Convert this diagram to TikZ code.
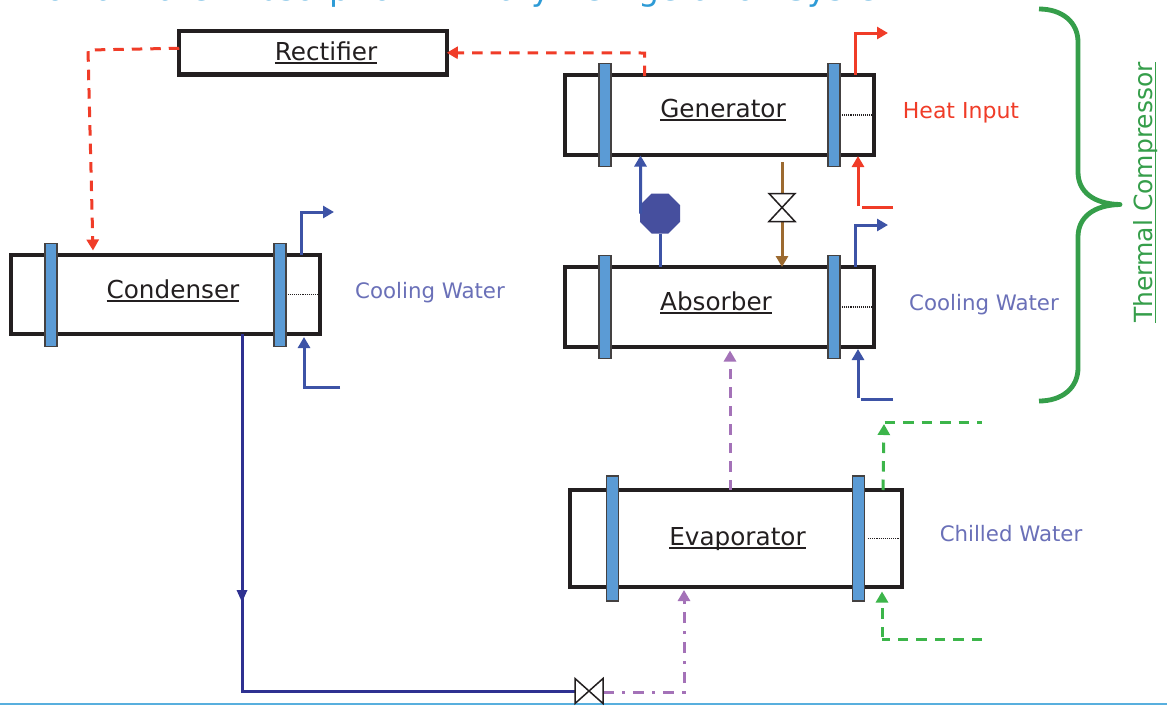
\documentclass[tikz,border=0pt]{standalone}
\usepackage{fontspec}
\setmainfont{DejaVu Sans}
\usetikzlibrary{arrows.meta,shapes.geometric}
\definecolor{boxk}{HTML}{231F20}
\definecolor{sheetb}{HTML}{5B9BD5}
\definecolor{hotred}{HTML}{F03C28}
\definecolor{coolb}{HTML}{3D53A6}
\definecolor{pumpb}{HTML}{464F9E}
\definecolor{deepb}{HTML}{2E3191}
\definecolor{brownl}{HTML}{9C6A30}
\definecolor{purpl}{HTML}{A472B8}
\definecolor{greenl}{HTML}{3CB54A}
\definecolor{bracegr}{HTML}{359E4A}
\definecolor{labelb}{HTML}{6A70B8}
\definecolor{titleb}{HTML}{2E9BD6}
\newcommand\ultext[2][2pt]{\setbox0=\hbox{#2}\rlap{\copy0}\raisebox{-3.8pt}{\rule{\wd0}{#1}}}
\tikzset{
  vessel/.style={draw=boxk,line width=4.2pt,fill=white,rectangle,inner sep=0pt,outer sep=0pt},
  sheet/.style={draw=boxk!85,line width=1.2pt,fill=sheetb,rectangle,inner sep=0pt,outer sep=0pt},
  vname/.style={anchor=base,font=\fontsize{24.7}{29}\selectfont,text=boxk,inner sep=0pt},
  sidelabel/.style={anchor=base,font=\fontsize{21.3}{25}\selectfont,text=labelb,inner sep=0pt},
  tip/.style={-{Triangle[length=11pt,width=12pt]}},
  flow/.style={line width=3pt,line join=miter},
  dash1/.style={dash pattern=on 10.5pt off 8pt},
  dash2/.style={dash pattern=on 11pt off 8pt on 3pt off 8pt},
  mesh/.style={densely dotted,line width=1.1pt,draw=boxk},
  valvebox/.style={inner sep=0pt,outer sep=0pt,rectangle},
  valveline/.style={draw=boxk,line width=1.5pt,fill=white,line join=miter},
}
\begin{document}
\begin{tikzpicture}[x=1pt,y=-1pt]
\useasboundingbox (0,0) rectangle (1167,705);
\fill[white] (0,0) rectangle (1167,705);
\begin{scope}
\clip (0,0) rectangle (1167,705);
\node[anchor=base east,inner sep=0pt,text=titleb,font=\fontsize{33}{38}\selectfont] (title) at (910,0.5) {Ammonia-Water Absorption Primary Refrigeration System};
\end{scope}
\draw[titleb!80,line width=1.3pt] (0,704) coordinate (bl) -- (1167,704) coordinate (br);

% vessels
\node[vessel,minimum width=267.5pt,minimum height=43.5pt] (rect) at (313,52.75) {};
\node[vessel,minimum width=309pt,minimum height=80pt] (gen) at (719.5,115) {};
\node[vessel,minimum width=309pt,minimum height=80pt] (abs) at (719.5,307) {};
\node[vessel,minimum width=308.5pt,minimum height=79pt] (cond) at (165.5,294.5) {};
\node[vessel,minimum width=332pt,minimum height=97pt] (evap) at (736,538.5) {};

% dotted dividers
\draw[mesh] (gen.east) ++(-32,0) coordinate (gd) -- (gen.east);
\draw[mesh] (abs.east) ++(-32,0) coordinate (ad) -- (abs.east);
\draw[mesh] (cond.east) ++(-32,0) coordinate (cd) -- (cond.east);
\draw[mesh] (evap.east) ++(-34,0) coordinate (ed) -- (evap.east);

% tube sheets
\node[sheet,minimum width=12pt,minimum height=103pt] (gs1) at (605,115) {};
\node[sheet,minimum width=12pt,minimum height=103pt] (gs2) at (834,115) {};
\node[sheet,minimum width=12pt,minimum height=103pt] (as1) at (605,307) {};
\node[sheet,minimum width=12pt,minimum height=103pt] (as2) at (834,307) {};
\node[sheet,minimum width=12pt,minimum height=103pt] (cs1) at (51,295) {};
\node[sheet,minimum width=12pt,minimum height=103pt] (cs2) at (280,295) {};
\node[sheet,minimum width=12.5pt,minimum height=125pt] (es1) at (612.5,538.5) {};
\node[sheet,minimum width=12.5pt,minimum height=125pt] (es2) at (858.5,538.5) {};

% vessel names
\node[vname] (trect) at (326,60.5) {\ultext{Rectifier}};
\node[vname] (tgen) at (723,117.5) {\ultext{Generator}};
\node[vname] (tabs) at (716,310) {\ultext{Absorber}};
\node[vname] (tcond) at (173,298) {\ultext{Condenser}};
\node[vname] (tevap) at (737.5,545) {\ultext{Evaporator}};

% side labels
\node[sidelabel,text=hotred,font=\fontsize{22}{26}\selectfont] (lheat) at (961,118) {Heat Input};
\node[sidelabel] (lcc) at (430,298) {Cooling Water};
\node[sidelabel] (lca) at (984,310) {Cooling Water};
\node[sidelabel] (lch) at (1011,541) {Chilled Water};

% pump and valves
\node[regular polygon,regular polygon sides=8,draw=none,fill=pumpb,minimum size=43.3pt,inner sep=0pt,outer sep=0pt] (pump) at (660,213.5) {};
\node[valvebox,minimum width=26pt,minimum height=28pt] (v2) at (782,207.5) {};
\node[valvebox,minimum width=28pt,minimum height=25pt] (v3) at (589,691) {};

% coordinates for free ends
\coordinate (r1) at (88,50);
\coordinate (r2) at (93,250.5);
\coordinate (g1) at (644.5,53);
\coordinate (ho2) at (888,33);
\coordinate (hi1) at (893,207);
\coordinate (hi2) at (862,207);
\coordinate (hi3) at (858,206);
\coordinate (ao2) at (888,225);
\coordinate (ai1) at (893,399);
\coordinate (ai2) at (861,399);
\coordinate (ai3) at (858,398);
\coordinate (co2) at (334,212);
\coordinate (ci1) at (340,387);
\coordinate (ci2) at (304,387);
\coordinate (gro1) at (884.5,422);
\coordinate (gro2) at (982,422);
\coordinate (gri1) at (982,639);
\coordinate (gri2) at (882,639);
\coordinate (d1) at (242,691);

% red flow
\draw[flow,hotred,dash1,tip] ([yshift=4.5pt]rect.west) -- (r1) -- (r2);
\draw[flow,hotred,dash1,tip] ([xshift=-75pt,yshift=-1pt]gen.north) -- (g1) -- (rect.east);
\draw[flow,hotred,tip] ([xshift=135.5pt]gen.north) |- (ho2);
\draw[flow,hotred] (hi1) -- (hi2);
\draw[flow,hotred,tip] (hi3) -- (858,156);

% blue cooling
\draw[flow,coolb,tip] ([xshift=135.5pt]abs.north) |- (ao2);
\draw[flow,coolb] (ai1) -- (ai2);
\draw[flow,coolb,tip] (ai3) -- (858,349);
\draw[flow,coolb,tip] ([xshift=135.5pt]cond.north) |- (co2);
\draw[flow,coolb,tip] (ci1) -- (ci2) -- (304,337);

% pump piping
\draw[flow,coolb] (pump.south) -- (abs.north -| pump.south);
\draw[flow,coolb,tip] (pump.west) ++(0.5,0) -- (640.5,155.5);

% brown line through valve
\draw[flow,brownl] (782,162) -- (v2.north);
\draw[flow,brownl,tip] (v2.south) -- (abs.north -| v2.south);
\draw[valveline] (v2.north west) -- (v2.north east) -- (v2.south west) -- (v2.south east) -- cycle;

% purple
\draw[flow,purpl,dash1,tip] ([xshift=-6pt]evap.north) -- (730,350.5);
\draw[flow,purpl,dash2,tip] (v3.east) ++(0,1) -- (684,692) -- (684,590);

% deep-blue liquid line
\draw[line width=3pt,deepb] ([xshift=76.5pt]cond.south) -- (d1) -- (v3.west);
\fill[deepb] (236.5,590) -- (247.5,590) -- (242,602) -- cycle;
\draw[valveline] (v3.north west) -- (v3.south east) -- (v3.north east) -- (v3.south west) -- cycle;

% green
\draw[flow,greenl,dash1,tip] ([xshift=147pt]evap.north) -- (884,424);
\draw[flow,greenl,dash1] (gro1) -- (gro2);
\draw[flow,greenl,dash1] (gri1) -- (gri2);
\draw[flow,greenl,dash1,tip] (882,637) -- (882,591.5);

% brace
\draw[bracegr,line width=4.8pt,line join=round,line cap=butt] (1039,9) .. controls (1062,9) and (1078,22) .. (1078,42) -- (1078,172) .. controls (1078,192) and (1094,204) .. (1120,204.5) .. controls (1094,205) and (1078,217) .. (1078,237) -- (1078,368) .. controls (1078,388) and (1062,401) .. (1039,401);
\node[rotate=90,anchor=base,inner sep=0pt,text=bracegr,font=\fontsize{25}{29}\selectfont] (tc) at (1152.5,192.5) {\ultext[1.5pt]{Thermal Compressor}};
\end{tikzpicture}
\end{document}
